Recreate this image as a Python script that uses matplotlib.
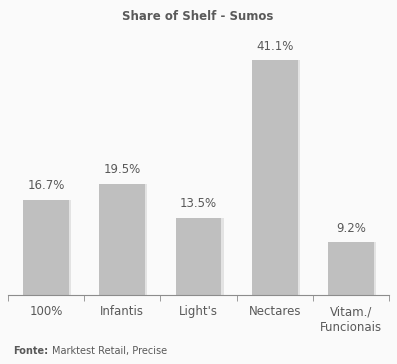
import matplotlib
matplotlib.use("Agg")
import matplotlib.pyplot as plt

categories = ["100%", "Infantis", "Light's", "Nectares", "Vitam./\nFuncionais"]
values = [16.7, 19.5, 13.5, 41.1, 9.2]
value_labels = ["16.7%", "19.5%", "13.5%", "41.1%", "9.2%"]
title = "Share of Shelf - Sumos"

bg = "#fafafa"
txt = "#595959"

plt.rcParams['font.family'] = ['DejaVu Sans']
fig = plt.figure(figsize=(3.97, 3.64), dpi=100, facecolor=bg)
ax = fig.add_axes([8/397, 69/364, 381/397, 255/364], facecolor=bg)

x = list(range(len(categories)))
# shadow
ax.bar([i + 0.03 for i in x], values, width=0.6, color="#e3e3e3", zorder=1)
ax.bar(x, values, width=0.6, color="#bfbfbf", zorder=2)
for i, (v, lab) in enumerate(zip(values, value_labels)):
    ax.annotate(lab, (i, v), xytext=(0, 5.5), textcoords="offset points",
                ha="center", va="bottom", fontsize=8.5, color=txt)

ax.set_xlim(-0.5, len(categories) - 0.5)
ax.set_ylim(0, 255 / 5.71)
ax.set_yticks([])
for s in ["top", "right", "left"]:
    ax.spines[s].set_visible(False)
ax.spines["bottom"].set_color("#8c8c8c")
ax.set_xticks(x)
ax.set_xticklabels(categories, fontsize=8.5, color=txt, linespacing=1.25)
ax.tick_params(axis="x", which="major", length=0, pad=7.5)
ax.set_xticks([i - 0.5 for i in range(len(categories) + 1)], minor=True)
ax.tick_params(axis="x", which="minor", length=4, color="#8c8c8c")

fig.text(198/397, 1 - 16/364, title, ha="center", va="center",
         fontsize=8.5, fontweight="bold", color=txt)
t1 = fig.text(13/397, 1 - 351/364, "Fonte:", ha="left", va="center",
              fontsize=7, fontweight="bold", color=txt)
fig.canvas.draw()
bb = t1.get_window_extent()
fig.text((bb.x1 + 4) / fig.bbox.width, 1 - 351/364, "Marktest Retail, Precise",
         ha="left", va="center", fontsize=7, color=txt)

fig.savefig("out.png", dpi=100, facecolor=bg)
